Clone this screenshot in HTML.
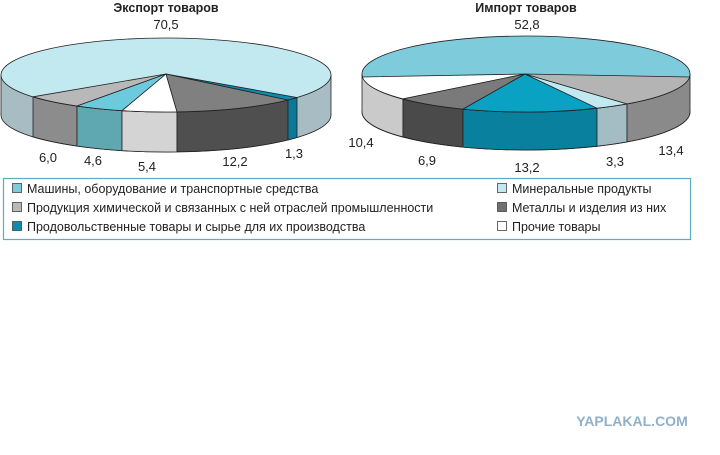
<!DOCTYPE html>
<html><head><meta charset="utf-8"><style>
body{margin:0;background:#fff;width:720px;height:450px;overflow:hidden;font-family:"Liberation Sans",sans-serif}
</style></head><body>
<svg width="720" height="450" xmlns="http://www.w3.org/2000/svg" font-family="Liberation Sans, sans-serif">
<g stroke="#222" stroke-width="0.8" stroke-linejoin="round">
<ellipse cx="166" cy="115" rx="165" ry="37" fill="#a8bcc4"/>
<rect x="1" y="75" width="330" height="40" fill="#a8bcc4" stroke="none"/>
<line x1="1" y1="75" x2="1" y2="115"/><line x1="331" y1="75" x2="331" y2="115"/>
<path d="M33 96.8 A165 37 0 0 0 77 106 L77 146 A165 37 0 0 1 33 136.8Z" fill="#8c8c8c"/>
<path d="M77 106 A165 37 0 0 0 122 110.7 L122 150.7 A165 37 0 0 1 77 146Z" fill="#5fa8b2"/>
<path d="M122 110.7 A165 37 0 0 0 177 111.9 L177 151.9 A165 37 0 0 1 122 150.7Z" fill="#d4d4d4"/>
<path d="M177 111.9 A165 37 0 0 0 288 100 L288 140 A165 37 0 0 1 177 151.9Z" fill="#4f4f4f"/>
<path d="M288 100 A165 37 0 0 0 297 97.5 L297 137.5 A165 37 0 0 1 288 140Z" fill="#0a7896"/>
<ellipse cx="166" cy="75" rx="165" ry="37" fill="#c2e8f0"/>
<path d="M166 74 L33 96.8 A165 37 0 0 0 77 106Z" fill="#b8b8b8"/>
<path d="M166 74 L77 106 A165 37 0 0 0 122 110.7Z" fill="#6ccadc"/>
<path d="M166 74 L122 110.7 A165 37 0 0 0 177 111.9Z" fill="#ffffff"/>
<path d="M166 74 L177 111.9 A165 37 0 0 0 288 100Z" fill="#808080"/>
<path d="M166 74 L288 100 A165 37 0 0 0 297 97.5Z" fill="#0a8cae"/>
<ellipse cx="526" cy="112" rx="164" ry="38" fill="#8a8a8a"/>
<path d="M362 74 A164 38 0 0 0 403 98.9 L403 136.9 A164 38 0 0 1 362 112Z" fill="#cacaca"/>
<path d="M403 98.9 A164 38 0 0 0 463 109.1 L463 147.1 A164 38 0 0 1 403 136.9Z" fill="#4a4a4a"/>
<path d="M463 109.1 A164 38 0 0 0 597 108.2 L597 146.2 A164 38 0 0 1 463 147.1Z" fill="#0a809f"/>
<path d="M597 108.2 A164 38 0 0 0 627 103.9 L627 141.9 A164 38 0 0 1 597 146.2Z" fill="#a4bcc4"/>
<path d="M627 103.9 A164 38 0 0 0 690 74 L690 112 A164 38 0 0 1 627 141.9Z" fill="#8a8a8a"/>
<ellipse cx="526" cy="74" rx="164" ry="38" fill="#7ecbdc"/>
<path d="M525 74 L362.3 77 A164 38 0 0 0 403 98.9Z" fill="#ffffff"/>
<path d="M525 74 L403 98.9 A164 38 0 0 0 463 109.1Z" fill="#7a7a7a"/>
<path d="M525 74 L463 109.1 A164 38 0 0 0 597 108.2Z" fill="#0aa2c2"/>
<path d="M525 74 L597 108.2 A164 38 0 0 0 627 103.9Z" fill="#c2e8f0"/>
<path d="M525 74 L627 103.9 A164 38 0 0 0 689.7 77Z" fill="#b4b4b4"/>
</g>
<g font-size="13" fill="#222" text-anchor="middle">
<text x="166" y="12" font-weight="bold" font-size="12.5">Экспорт товаров</text>
<text x="166" y="29">70,5</text>
<text x="48" y="162">6,0</text>
<text x="93" y="165">4,6</text>
<text x="147" y="171">5,4</text>
<text x="235" y="166">12,2</text>
<text x="294" y="158">1,3</text>
<text x="526" y="12" font-weight="bold" font-size="12.5">Импорт товаров</text>
<text x="527" y="29">52,8</text>
<text x="361" y="147">10,4</text>
<text x="427" y="165">6,9</text>
<text x="527" y="172">13,2</text>
<text x="615" y="166">3,3</text>
<text x="671" y="155">13,4</text>
</g>
<rect x="3.5" y="178.5" width="687" height="61" fill="none" stroke="#5aafbf" stroke-width="1.2"/>
<g stroke="#444" stroke-width="0.8">
<rect x="12.5" y="183.5" width="9" height="9" fill="#7ecbdc"/>
<rect x="12.5" y="202.5" width="9" height="9" fill="#b8b8b8"/>
<rect x="12.5" y="221.5" width="9" height="9" fill="#0a8cae"/>
<rect x="497.5" y="183.5" width="9" height="9" fill="#c2e8f0"/>
<rect x="497.5" y="202.5" width="9" height="9" fill="#707070"/>
<rect x="497.5" y="221.5" width="9" height="9" fill="#fff"/>
</g>
<g font-size="12.5" fill="#222">
<text x="27" y="193">Машины, оборудование и транспортные средства</text>
<text x="27" y="212">Продукция химической и связанных с ней отраслей промышленности</text>
<text x="27" y="231">Продовольственные товары и сырье для их производства</text>
<text x="512" y="193">Минеральные продукты</text>
<text x="512" y="212">Металлы и изделия из них</text>
<text x="512" y="231">Прочие товары</text>
</g>
<text x="632" y="426" font-size="14" font-weight="bold" fill="#90b0c8" text-anchor="middle">YAPLAKAL.COM</text>
</svg>
</body></html>
